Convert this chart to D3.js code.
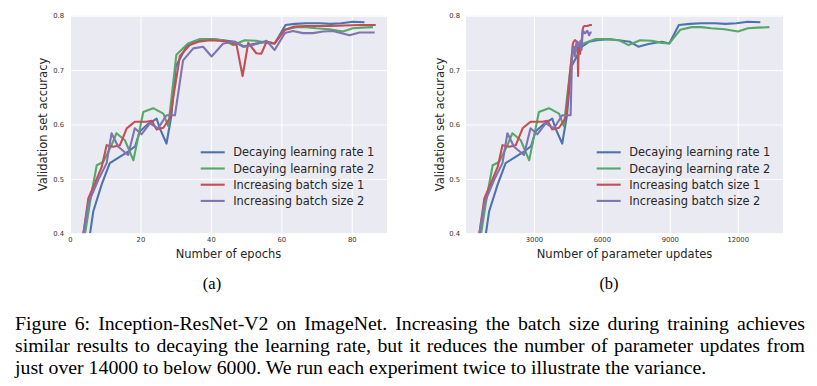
<!DOCTYPE html>
<html><head><meta charset="utf-8">
<script src="https://cdn.jsdelivr.net/npm/d3@7/dist/d3.min.js"></script>
<style>
body{margin:0;background:#fff;}
svg{display:block;}
</style></head><body>
<script>
// ---------- DATA ----------
const categories = ["Decaying learning rate 1","Decaying learning rate 2","Increasing batch size 1","Increasing batch size 2"];
const colors = ["#4C72B0","#55A868","#C44E52","#8172B2"];
const yTicks = [0.4,0.5,0.6,0.7,0.8];
const epochTicks = [0,20,40,60,80];
const updateTicks = [3000,6000,9000,12000];

const dlr1Epochs = [5.7,6.6,9,11.3,14,16.5,18.5,19.8,22,24.6,25.5,27.4,28.8,30,33,35,37.3,40.6,43.5,46.8,49.1,52,55.8,58.1,61.2,63.8,67,70.9,74,77,80.3,83.6];
const dlr1Updates = [880,1020,1400,1750,2170,2560,2870,3070,3410,3810,3950,4250,4460,4650,5120,5430,5780,6290,6740,7250,7610,8060,8650,8980,9400,9890,10390,10990,11470,11940,12450,13000];
const dlr1Acc = [0.40,0.44,0.49,0.529,0.54,0.55,0.56,0.587,0.60,0.611,0.593,0.565,0.617,0.706,0.743,0.752,0.755,0.757,0.755,0.752,0.743,0.748,0.752,0.749,0.783,0.785,0.786,0.786,0.785,0.786,0.789,0.788];

const dlr2Epochs = [4.3,6,7.6,9.4,11.8,13.2,15.6,18,20.8,23.6,26.5,27.9,30.2,33.5,36.9,40,43.5,46.3,49.6,52.9,55.8,58.1,61,64.3,67,69.9,73.7,77.5,80.3,83,86];
const dlr2Updates = [670,930,1180,1460,1830,2050,2420,2790,3220,3660,4110,4320,4680,5190,5720,6200,6740,7180,7690,8200,8650,8980,9460,9970,10390,10830,11420,12010,12450,12870,13400];
const dlr2Acc = [0.40,0.47,0.525,0.531,0.562,0.584,0.571,0.534,0.623,0.63,0.62,0.597,0.728,0.749,0.757,0.757,0.755,0.746,0.755,0.754,0.75,0.749,0.774,0.779,0.779,0.777,0.775,0.771,0.777,0.778,0.779];

const ibs1Epochs = [3.8,5.2,7.1,9,10.4,12.3,14.2,16.1,18.4,21.7,23.2,24.6,26.5,28.4,31.2,34,36.5,39.7,44.4,47.3,49,50.6,52.9,54.3,55.8,58.1,61,63.8,67,70,74,78,82,86.8];
const ibs1Updates = [590,810,1100,1400,1610,1910,2200,2500,2850,3360,3600,3810,4110,4400,4670,4710,4750,4810,4880,4930,4950,4980,5020,5040,5060,5100,5150,5190,5240,5290,5350,5420,5480,5560];
const ibs1Acc = [0.40,0.464,0.492,0.522,0.562,0.559,0.562,0.593,0.605,0.605,0.607,0.591,0.594,0.612,0.726,0.746,0.752,0.755,0.753,0.746,0.689,0.75,0.731,0.73,0.752,0.749,0.774,0.78,0.781,0.781,0.781,0.782,0.783,0.783];

const ibs2Epochs = [3.8,5.2,8,10.4,11.8,13.7,16.5,18.4,20.3,22.7,25,27.4,29.8,32.1,35,37.8,40.2,43.5,46.8,49.6,52.9,55.8,58.1,61,63.3,66.1,69,71.8,74.6,79.4,82.2,86.5];
const ibs2Updates = [590,810,1240,1610,1830,2120,2560,2850,3150,3520,3880,4250,4620,4680,4730,4770,4810,4870,4920,4960,5020,5060,5100,5150,5180,5230,5270,5320,5360,5440,5490,5550];
const ibs2Acc = [0.40,0.455,0.498,0.529,0.584,0.559,0.544,0.593,0.582,0.602,0.593,0.617,0.617,0.718,0.74,0.743,0.725,0.749,0.752,0.743,0.748,0.754,0.737,0.768,0.772,0.768,0.768,0.771,0.772,0.764,0.769,0.769];

const captionLines = [
  "Figure 6: Inception-ResNet-V2 on ImageNet.  Increasing the batch size during training achieves",
  "similar results to decaying the learning rate, but it reduces the number of parameter updates from",
  "just over 14000 to below 6000. We run each experiment twice to illustrate the variance."
];

// ---------- DRAW ----------
const W = 817, H = 386;
const svg = d3.select("body").append("svg").attr("width", W).attr("height", H);
svg.append("rect").attr("width", W).attr("height", H).attr("fill", "#fff");

const accs = [dlr1Acc, dlr2Acc, ibs1Acc, ibs2Acc];
const epochXs = [dlr1Epochs, dlr2Epochs, ibs1Epochs, ibs2Epochs];
const updateXs = [dlr1Updates, dlr2Updates, ibs1Updates, ibs2Updates];

const plotTop = 15.7, plotBottom = 233.3;
const sans = "'DejaVu Sans', sans-serif";

function drawPlot(id, x0, x1, domain, ticks, xs, xTitle, yTitleX, legendX) {
  const x = d3.scaleLinear().domain(domain).range([x0, x1]);
  const y = d3.scaleLinear().domain([0.4, 0.8]).range([plotBottom, plotTop]);
  const g = svg.append("g");
  g.append("rect").attr("x", x0).attr("y", plotTop).attr("width", x1 - x0).attr("height", plotBottom - plotTop).attr("fill", "#EAEAF2");

  const xa = g.append("g").attr("transform", `translate(0,${plotBottom})`)
    .call(d3.axisBottom(x).tickValues(ticks).tickSize(-(plotBottom - plotTop)).tickPadding(4).tickFormat(d3.format("d")));
  const ya = g.append("g").attr("transform", `translate(${x0},0)`)
    .call(d3.axisLeft(y).tickValues(yTicks).tickSize(-(x1 - x0)).tickPadding(6).tickFormat(d3.format(".1f")));
  [xa, ya].forEach(a => {
    a.select(".domain").remove();
    a.selectAll(".tick line").attr("stroke", "#fff").attr("stroke-width", 1);
    a.selectAll(".tick text").attr("fill", "#333").style("font-family", sans).style("font-size", "6.8px");
  });

  svg.append("clipPath").attr("id", "clip" + id).append("rect")
    .attr("x", x0).attr("y", plotTop).attr("width", x1 - x0).attr("height", plotBottom - plotTop);
  const line = d3.line().x(d => x(d[0])).y(d => y(d[1]));
  const lg = g.append("g").attr("clip-path", `url(#clip${id})`);
  categories.forEach((c, i) => {
    const pts = xs[i].map((v, j) => [v, accs[i][j]]);
    lg.append("path").datum(pts).attr("d", line).attr("fill", "none")
      .attr("stroke", colors[i]).attr("stroke-width", 2.1).attr("stroke-linejoin", "round");
  });

  g.append("text").attr("x", (x0 + x1) / 2).attr("y", 258).attr("text-anchor", "middle")
    .style("font-family", sans).style("font-size", "11.5px").attr("fill", "#262626").text(xTitle);
  g.append("text").attr("transform", `translate(${yTitleX},${(plotTop + plotBottom) / 2}) rotate(-90)`)
    .attr("text-anchor", "middle").attr("dy", "0.35em")
    .style("font-family", sans).style("font-size", "11.5px").attr("fill", "#262626").text("Validation set accuracy");

  const leg = g.append("g");
  categories.forEach((c, i) => {
    const yy = 152.3 + i * 16.2;
    leg.append("line").attr("x1", legendX).attr("x2", legendX + 24).attr("y1", yy).attr("y2", yy)
      .attr("stroke", colors[i]).attr("stroke-width", 2.1);
    leg.append("text").attr("x", legendX + 32.5).attr("y", yy).attr("dy", "0.36em")
      .style("font-family", sans).style("font-size", "11.4px").attr("fill", "#262626").text(c);
  });
}

drawPlot("a", 70, 387, [0, 90], epochTicks, epochXs, "Number of epochs", 42.5, 200.7);
drawPlot("b", 466, 783, [0, 14000], updateTicks, updateXs, "Number of parameter updates", 440, 596.7);

const serif = "'Liberation Serif', 'Times New Roman', serif";
svg.append("text").attr("x", 212).attr("y", 283).attr("dy", "0.35em").attr("text-anchor", "middle")
  .style("font-family", serif).style("font-size", "16.5px").text("(a)");
svg.append("text").attr("x", 609).attr("y", 283).attr("dy", "0.35em").attr("text-anchor", "middle")
  .style("font-family", serif).style("font-size", "16.5px").text("(b)");

// caption, first two lines justified
const capLeft = 15, capRight = 805, capFont = "19.8px";
const capY = [329.5, 351.5, 373.5];
captionLines.forEach((ln, li) => {
  if (li < 2) {
    const words = ln.split(/\s+/);
    const tmp = words.map(w => svg.append("text").style("font-family", serif).style("font-size", capFont).text(w));
    const widths = tmp.map(t => t.node().getComputedTextLength());
    tmp.forEach(t => t.remove());
    const total = d3.sum(widths);
    const gap = Math.max(3, (capRight - capLeft - total) / (words.length - 1));
    let xx = capLeft;
    const t = svg.append("text").attr("y", capY[li]).style("font-family", serif).style("font-size", capFont).attr("fill", "#000");
    words.forEach((w, k) => {
      t.append("tspan").attr("x", xx).text(w);
      xx += widths[k] + gap;
    });
  } else {
    svg.append("text").attr("x", capLeft).attr("y", capY[li]).style("font-family", serif)
      .style("font-size", capFont).attr("fill", "#000").text(ln);
  }
});
</script>
</body></html>
